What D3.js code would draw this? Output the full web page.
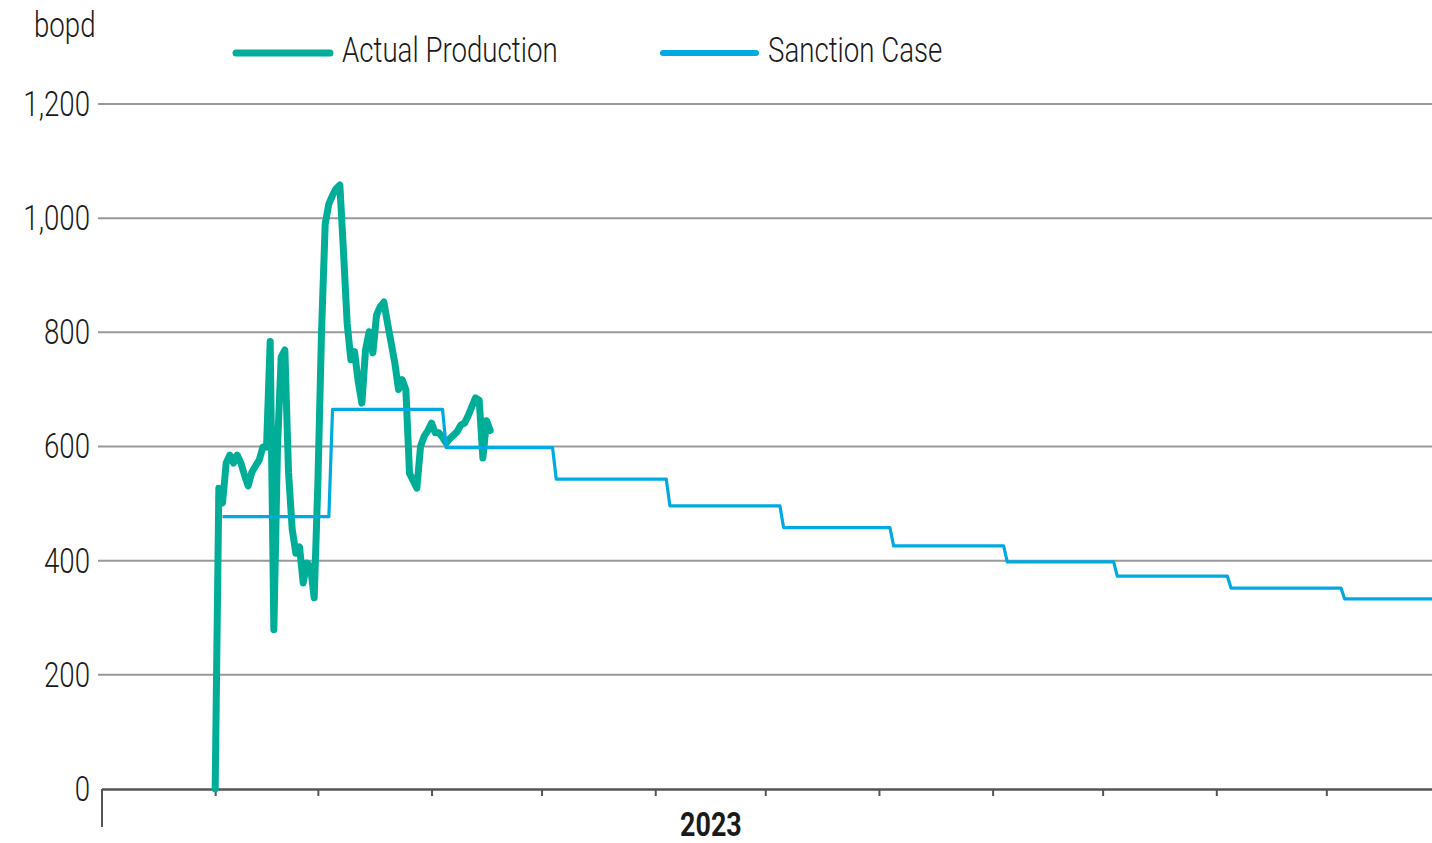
<!DOCTYPE html>
<html>
<head>
<meta charset="utf-8">
<script src="https://cdn.jsdelivr.net/npm/d3@7"></script>
<style>
    body { margin: 0; background: #fff; }
    svg { display: block; }
    text { font-family: Roboto, "Liberation Sans", sans-serif; fill: #1a1a1a; }
</style>
</head>
<body>
<div id="chart"></div>
<script>
// daily actual production, bopd
var prodDates = [
    "2023-02-01", "2023-02-02", "2023-02-03", "2023-02-04", "2023-02-05", "2023-02-06", "2023-02-07",
    "2023-02-08", "2023-02-09", "2023-02-10", "2023-02-11", "2023-02-12", "2023-02-13", "2023-02-14",
    "2023-02-15", "2023-02-16", "2023-02-17", "2023-02-18", "2023-02-19", "2023-02-20", "2023-02-21",
    "2023-02-22", "2023-02-23", "2023-02-24", "2023-02-25", "2023-02-26", "2023-02-27", "2023-02-28",
    "2023-03-01", "2023-03-02", "2023-03-03", "2023-03-04", "2023-03-05", "2023-03-06", "2023-03-07",
    "2023-03-08", "2023-03-09", "2023-03-10", "2023-03-11", "2023-03-12", "2023-03-13", "2023-03-14",
    "2023-03-15", "2023-03-16", "2023-03-17", "2023-03-18", "2023-03-19", "2023-03-20", "2023-03-21",
    "2023-03-22", "2023-03-23", "2023-03-24", "2023-03-25", "2023-03-26", "2023-03-27", "2023-03-28",
    "2023-03-29", "2023-03-30", "2023-03-31", "2023-04-01", "2023-04-02", "2023-04-03", "2023-04-04",
    "2023-04-05", "2023-04-06", "2023-04-07", "2023-04-08", "2023-04-09", "2023-04-10", "2023-04-11",
    "2023-04-12", "2023-04-13", "2023-04-14", "2023-04-15", "2023-04-16", "2023-04-17"
];
var prodValues = [
    0, 527, 501, 571, 585, 571, 585,
    571, 550, 531, 555, 566, 576, 599,
    599, 784, 279, 600, 757, 769, 555,
    455, 413, 424, 361, 396, 389, 335,
    535, 800, 990, 1025, 1040, 1052, 1058,
    940, 815, 752, 766, 714, 676, 769,
    801, 764, 830, 845, 853, 816, 781,
    746, 700, 717, 699, 553, 540, 527,
    600, 618, 628, 641, 624, 624, 616,
    606, 614, 620, 626, 638, 641, 654,
    670, 685, 681, 580, 645, 628
];

// sanction case: value holds from each date until the next one
var sanctionDates = ["2023-02-03", "2023-03-05", "2023-04-05", "2023-05-05", "2023-06-05", "2023-07-06",
    "2023-08-05", "2023-09-05", "2023-10-05", "2023-11-05", "2023-12-06"];
var sanctionValues = [477, 665, 598, 543, 496, 458, 426, 398, 373, 352, 333];
var sanctionEnd = "2024-01-01";

var yTicks = [0, 200, 400, 600, 800, 1000, 1200];
var seriesNames = ["Actual Production", "Sanction Case"];
var seriesColors = ["#00ae98", "#00a9e0"];

var width = 1432, height = 843;
var squeeze = 0.79; // narrow the font like the condensed face in the original

var parse = d3.timeParse("%Y-%m-%d");

var svg = d3.select("#chart").append("svg")
    .attr("width", width)
    .attr("height", height);

var x = d3.scaleTime()
    .domain([parse("2023-01-01"), parse("2024-01-01")])
    .range([101.5, 1440]);

var y = d3.scaleLinear()
    .domain([0, 1200])
    .range([789, 104]);

function condense(sel) {
    sel.each(function () {
        var w = this.getComputedTextLength();
        d3.select(this)
            .attr("textLength", w * squeeze)
            .attr("lengthAdjust", "spacingAndGlyphs");
    });
}

// gridlines
svg.append("g")
    .selectAll("line")
    .data(yTicks.filter(function (d) { return d > 0; }))
    .join("line")
    .attr("x1", 98)
    .attr("x2", width)
    .attr("y1", function (d) { return y(d); })
    .attr("y2", function (d) { return y(d); })
    .attr("stroke", "#999")
    .attr("stroke-width", 2);

// y labels
svg.append("g")
    .selectAll("text")
    .data(yTicks)
    .join("text")
    .attr("x", 90)
    .attr("y", function (d) { return y(d); })
    .attr("dy", "0.34em")
    .attr("text-anchor", "end")
    .attr("font-size", 35)
    .attr("font-weight", 300)
    .text(function (d) { return d3.format(",")(d); })
    .call(condense);

svg.append("text")
    .attr("x", 34)
    .attr("y", 37)
    .attr("font-size", 35)
    .attr("font-weight", 300)
    .text("bopd")
    .call(condense);

// x axis
var xAxis = d3.axisBottom(x)
    .ticks(d3.timeMonth.every(1))
    .tickSize(7)
    .tickSizeOuter(0)
    .tickFormat("");

var gx = svg.append("g")
    .attr("transform", "translate(0," + y(0) + ")")
    .call(xAxis);
gx.select(".domain").attr("stroke", "#555").attr("stroke-width", 2.5);
gx.selectAll(".tick line").attr("stroke", "#555").attr("stroke-width", 2);
gx.selectAll(".tick")
    .filter(function (d) { return +d === +parse("2023-01-01"); })
    .select("line")
    .attr("y2", 38);

svg.append("text")
    .attr("x", (x(parse("2023-01-01")) + x(parse("2023-12-01"))) / 2 - 3)
    .attr("y", 836)
    .attr("text-anchor", "middle")
    .attr("font-size", 34)
    .attr("font-weight", "bold")
    .text("2023")
    .call(condense);

// series
var prod = prodDates.map(function (d, i) { return { date: parse(d), value: prodValues[i] }; });

var sanction = [];
sanctionDates.forEach(function (d, i) {
    var next = i < sanctionDates.length - 1 ? parse(sanctionDates[i + 1]) : parse(sanctionEnd);
    sanction.push({ date: parse(d), value: sanctionValues[i] });
    sanction.push({ date: d3.timeDay.offset(next, -1), value: sanctionValues[i] });
});

var line = d3.line()
    .x(function (d) { return x(d.date); })
    .y(function (d) { return y(d.value); });

svg.append("path")
    .datum(prod)
    .attr("d", line)
    .attr("fill", "none")
    .attr("stroke", seriesColors[0])
    .attr("stroke-width", 7)
    .attr("stroke-linejoin", "round")
    .attr("stroke-linecap", "round");

svg.append("path")
    .datum(sanction)
    .attr("d", line)
    .attr("fill", "none")
    .attr("stroke", seriesColors[1])
    .attr("stroke-width", 3.2)
    .attr("stroke-linejoin", "round");

// legend
var legend = [
    { name: seriesNames[0], color: seriesColors[0], x1: 236, x2: 330, w: 7, tx: 342 },
    { name: seriesNames[1], color: seriesColors[1], x1: 663, x2: 756, w: 6, tx: 768 }
];
var lg = svg.append("g");
lg.selectAll("line")
    .data(legend)
    .join("line")
    .attr("x1", function (d) { return d.x1; })
    .attr("x2", function (d) { return d.x2; })
    .attr("y1", 53)
    .attr("y2", 53)
    .attr("stroke", function (d) { return d.color; })
    .attr("stroke-width", function (d) { return d.w; })
    .attr("stroke-linecap", "round");
lg.selectAll("text")
    .data(legend)
    .join("text")
    .attr("x", function (d) { return d.tx; })
    .attr("y", 62)
    .attr("font-size", 35)
    .attr("font-weight", 300)
    .text(function (d) { return d.name; })
    .call(condense);
</script>
</body>
</html>
